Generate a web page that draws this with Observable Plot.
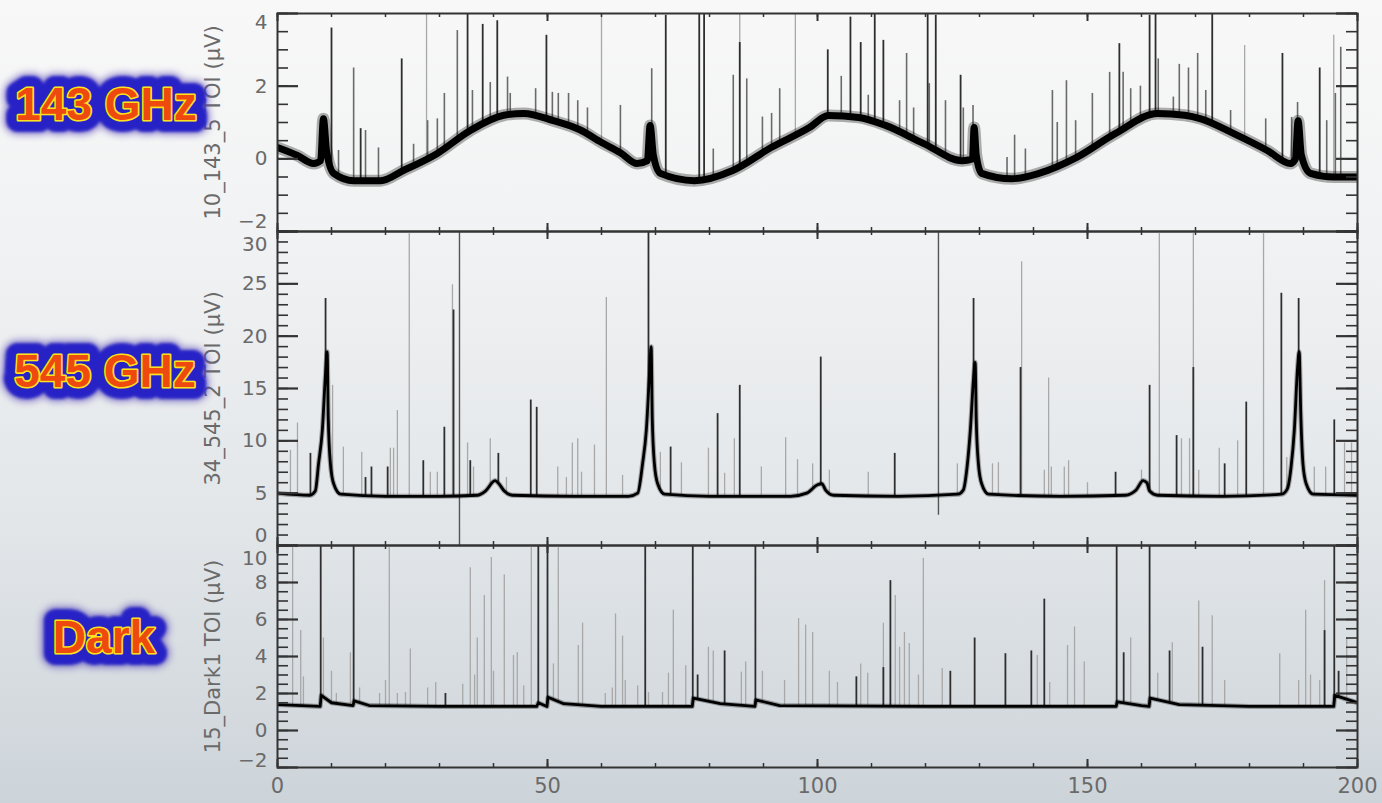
<!DOCTYPE html>
<html>
<head>
<meta charset="utf-8">
<script src="https://cdn.jsdelivr.net/npm/d3@7"></script>
<script src="https://cdn.jsdelivr.net/npm/@observablehq/plot@0.6"></script>
<style>
  html, body { margin: 0; padding: 0; }
  body { width: 1382px; height: 803px; overflow: hidden; }
  #wrap { position: relative; width: 1382px; height: 803px;
    background: linear-gradient(to bottom, #f8f8f8 0%, #f1f2f3 30%, #e2e6e9 65%, #cdd4d9 100%); }
  #wrap svg.plot { position: absolute; left: 0; }
  #badges { position: absolute; left: 0; top: 0; }
</style>
</head>
<body>
<div id="wrap"></div>
<script>
// ---------- data ----------
const xTickLabels = [0, 50, 100, 150, 200];

// Panel 1 : 143 GHz
const p1Label = "10_143_5 TOI (\u03bcV)";
const p1YTicks = [-2, 0, 2, 4];
const p1Base = [[0,0.31],[3.7,0.09],[6.7,-0.13],[8.0,-0.05],[8.5,1.1],[9.1,0.2],[10.4,-0.4],[14.1,-0.6],[19.1,-0.6],[23.3,-0.32],[29.6,0.15],[35.7,0.78],[41.9,1.2],[45.6,1.25],[51.1,1.05],[56,0.8],[60,0.45],[63.5,0.17],[66.6,-0.13],[68.5,-0.05],[69.0,0.92],[69.6,0.1],[70.9,-0.4],[77.2,-0.6],[84.3,-0.32],[91.4,0.31],[98.5,0.86],[102,1.19],[107.6,1.14],[112.6,0.92],[119.7,0.42],[126.8,-0.05],[128.7,0.0],[129,0.86],[129.4,0.1],[130.4,-0.4],[136,-0.55],[141,-0.4],[148,0.04],[155.2,0.7],[163,1.25],[168,1.2],[171,1.1],[177,0.7],[183.3,0.23],[187.6,-0.13],[188.5,0.0],[189,1.05],[189.6,0.1],[191.3,-0.4],[195.6,-0.5],[200,-0.5]];
const p1Dark = [[10.0,3.6],[15.4,0.83],[23.0,2.75],[35.2,4.0],[38.0,3.7],[40.7,3.8],[49.8,3.4],[71.9,3.95],[78.1,4],[79.0,4],[85.6,3.2],[101.9,3.0],[106.1,3.9],[108.0,3.2],[110.6,4],[112.2,3.26],[120.4,4],[121.9,3.95],[126.5,2.3],[155.9,3.17],[161.5,3.95],[162.6,4],[173.1,4],[186.1,2.9],[193.0,2.5]];
const p1Mid = [[11.3,0.23],[14.1,2.5],[16.3,0.78],[18.7,0.3],[25.2,0.4],[27.8,1.05],[29.6,1.1],[30.9,1.8],[33.3,3.53],[36.1,1.88],[39.4,2.1],[42.6,2.25],[43.1,1.8],[47.8,1.93],[50.9,1.83],[52.0,1.8],[53.9,1.8],[55.6,1.6],[57.4,1.4],[63.5,1.47],[69.3,2.48],[80.7,0.27],[84.4,2.3],[86.9,2.2],[89.8,1.15],[91.5,1.25],[93.0,1.93],[104.4,2.27],[109.4,1.75],[115.2,1.6],[116.5,2.9],[117.8,1.4],[120.7,2.07],[123.7,1.6],[127.0,1.4],[128.8,1.47],[135.1,0.04],[136.5,0.65],[138.5,0.27],[143.5,1.88],[144.4,1.0],[146.1,2.15],[147.8,1.05],[150.9,1.8],[154.1,2.38],[156.6,2.38],[158.0,1.93],[159.8,2.0],[163.1,2.75],[165.9,1.7],[167.0,2.6],[168.7,2.5],[170.4,2.9],[171.9,1.88],[176.5,1.33],[183.0,1.1],[187.8,1.14],[188.9,1.55],[194.3,1.05],[195.9,1.8],[196.9,3.07]];
const p1Light = [[27.6,4.0],[60.0,4.0],[85.6,4.0],[95.9,4.0],[179.1,3.12],[195.6,3.4]];

// Panel 2 : 545 GHz
const p2Label = "34_545_2 TOI (\u03bcV)";
const p2YTicks = [0, 5, 10, 15, 20, 25, 30];
const p2Base = [[0,5.0],[6,4.8],[7,5.2],[7.6,7.8],[8.3,11],[8.9,16.5],[9.2,18.5],[9.4,12.2],[9.8,7.8],[10.4,5.9],[11.7,4.9],[20,4.7],[30,4.7],[37,4.8],[38.5,5.2],[40.3,6.2],[41,5.9],[42,5.2],[43.5,4.8],[55,4.7],[65,4.7],[66.7,5.0],[67.6,7.8],[68.3,11],[68.9,16.5],[69.2,19],[69.4,12.2],[69.8,7.8],[70.4,5.9],[71.7,4.9],[80,4.7],[95,4.7],[98,5.0],[100,5.8],[100.8,5.9],[101.5,5.3],[103,4.8],[115,4.7],[126,4.9],[127,5.3],[127.7,7.5],[128.3,11],[128.9,16],[129.2,17.5],[129.4,12],[129.8,7.8],[130.4,5.9],[131.7,4.9],[145,4.7],[157,4.8],[159,5.3],[160.3,6.2],[161,6.0],[161.5,5.2],[163,4.8],[175,4.7],[186,4.9],[187,5.4],[187.7,7.5],[188.3,11],[188.9,17],[189.2,18.5],[189.5,12.5],[189.9,7.8],[190.5,5.9],[191.8,4.9],[200,4.8]];
const p2Dark = [[6.1,8.8],[8.9,23.6],[16.3,6.5],[17.4,7.5],[20.4,7.5],[27.0,8.1],[30.9,11.3],[32.6,22.5],[35.7,8.1],[40.9,8.8],[46.9,13.9],[48.0,13.2],[68.7,30],[72.8,9.4],[81.5,12.6],[85.6,15.3],[100.6,18.0],[114.3,8.8],[128.9,23.6],[137.6,17.0],[155.2,7.0],[161.5,15.3],[166.5,10.5],[169.6,17],[175.4,7.8],[179.4,13.7],[185.9,24.1],[189.1,23.6],[195.7,12.0]];
const p2Light = [[2.4,9.1],[3.7,11.7],[10.2,15.3],[12.2,9.4],[15.6,8.9],[20.9,9.3],[21.5,9.3],[22.2,12.9],[24.4,30],[28.3,7.0],[29.6,7.0],[32.4,24.9],[35.2,9.8],[36.3,7.5],[39.4,10.2],[42.4,6.5],[51.9,7.5],[53.5,6.5],[54.6,9.8],[55.6,10.2],[56.3,7.0],[58.7,9.6],[60.9,23.7],[63.9,6.7],[70.9,8.9],[74.8,7.9],[79.8,9.3],[82.8,6.9],[84.6,10.2],[89.6,7.5],[94.1,10.3],[96.3,8.2],[99.1,7.8],[102.2,7.2],[109.4,7.0],[125.9,7.8],[132.4,7.8],[133.5,7.9],[137.8,27.1],[142.0,7.2],[142.8,16.0],[143.3,7.5],[145.7,7.5],[146.5,8.1],[150.0,6.0],[160.0,7.2],[163.3,30],[167.4,10.2],[168.9,10.2],[169.6,30],[170.6,7.2],[174.4,9.3],[177.8,10.0],[182.6,30],[186.9,8.4],[192.0,7.5],[194.1,7.5],[197.6,9.8],[198.9,9.8]];
const p2Glitch = [[33.7,0,30],[122.4,2.9,30]];

// Panel 3 : Dark
const p3Label = "15_Dark1 TOI (\u03bcV)";
const p3YTicks = [-2, 0, 2, 4, 6, 8, 10];
const p3Base = [[0,1.4],[7.9,1.3],[8.1,1.9],[10,1.5],[14,1.35],[14.2,1.6],[17,1.35],[30,1.3],[48,1.3],[48.3,1.5],[49.9,1.3],[50.1,1.8],[53,1.45],[60,1.3],[76.8,1.3],[77.0,1.75],[82,1.45],[88.4,1.3],[88.6,1.65],[93,1.35],[120,1.3],[155.3,1.3],[155.5,1.55],[160,1.35],[161.4,1.3],[161.6,1.75],[167,1.4],[180,1.3],[195.6,1.3],[195.8,1.9],[200,1.5]];
const p3Dark = [[8.0,10],[14.1,10],[31.1,2.0],[48.3,10],[50.0,10],[68.1,10],[76.9,10],[77.8,3.0],[82.8,4.3],[88.5,10],[107.2,2.9],[112.2,3.4],[113.5,8.1],[124.6,3.2],[129.1,5.0],[134.8,4.15],[139.6,4.3],[142.0,7.1],[155.4,10],[156.7,4.2],[161.5,10],[165.2,4.3],[171.3,4.5],[193.9,5.4],[195.7,10],[196.5,3.2]];
const p3Light = [[2.8,10],[4.3,5.4],[4.8,2.9],[8.5,5.0],[10.0,3.2],[10.9,2.0],[13.5,4.2],[15.2,2.3],[18.9,2.0],[20.0,2.7],[20.7,10],[22.2,2.0],[23.7,2.05],[24.6,4.4],[27.8,2.3],[29.3,2.6],[34.3,2.5],[35.7,8.8],[36.5,3.0],[37.0,5.0],[38.3,7.3],[39.6,9.35],[40.0,3.2],[42.0,8.4],[43.7,4.05],[44.4,4.2],[45.6,2.4],[47.0,10],[51.1,3.6],[52.0,10],[55.7,4.6],[56.5,5.8],[60.7,2.0],[62.0,2.3],[62.6,6.3],[63.9,5.1],[64.4,2.7],[66.7,2.4],[68.7,2.05],[71.3,2.05],[72.4,3.1],[73.3,6.5],[75.6,3.5],[79.8,4.5],[80.7,4.3],[85.9,3.15],[86.7,3.7],[89.8,3.2],[93.9,2.7],[96.5,6.05],[97.8,5.7],[99.1,5.3],[102.2,3.2],[103.7,2.6],[108.0,3.6],[109.3,3.1],[112.2,5.8],[114.4,7.3],[115.2,4.5],[116.1,5.3],[117.0,4.7],[118.7,3.0],[119.6,9.3],[123.1,3.35],[140.7,4.05],[143.0,2.6],[146.3,4.6],[147.6,5.6],[149.4,3.7],[158.0,5.0],[163.0,3.1],[165.7,4.75],[170.6,7.0],[173.1,6.2],[175.4,2.7],[185.6,4.15],[189.1,2.7],[190.4,6.5],[191.3,3.0],[193.0,2.7],[193.9,8.1],[198.0,5.0]];

// Badges
const badgeNames = ["143 GHz", "545 GHz", "Dark"];

// ---------- helpers ----------
const FONT = "'DejaVu Sans', Verdana, sans-serif";
const fmt = d => String(d).replace("-", "\u2212");
const ML = 277, MR = 25, W = 1382, FW = W - ML - MR;
function baseAt(base, x) {
  const i = d3.bisector(d => d[0]).right(base, x);
  if (i <= 0) return base[0][1];
  if (i >= base.length) return base[base.length - 1][1];
  const a = base[i - 1], b = base[i];
  return a[1] + (b[1] - a[1]) * (x - a[0]) / (b[0] - a[0]);
}

function panel({domain, yTicks, yMinorStep, label, base, dark, mid, light, glitch, baseWidth, halo, curve, top, height, mt, mb, topDy, botDy, xLabels}) {
  const [lo, hi] = domain;
  const FH = height - mt - mb;
  const minor = d3.range(lo, hi + 1e-9, yMinorStep);
  const inner = yTicks.filter(t => t !== lo && t !== hi);
  const marks = [];
  const spike = (data, stroke, w) => Plot.ruleX(data, {
    x: d => d[0], y1: d => baseAt(base, d[0]), y2: d => d[1], stroke, strokeWidth: w, clip: true
  });
  if (light) marks.push(spike(light, "#a8a8a8", 1.3));
  if (mid) marks.push(spike(mid, "#6a6a6a", 1.6));
  if (dark) marks.push(spike(dark, "#2e2e2e", 1.8));
  if (glitch) marks.push(Plot.ruleX(glitch, {x: d => d[0], y1: d => d[1], y2: d => d[2], stroke: "#555", strokeWidth: 1.4, clip: true}));
  if (halo) marks.push(Plot.line(base, {x: d => d[0], y: d => d[1], curve, stroke: "#000", strokeOpacity: 0.3, strokeWidth: halo, strokeLinejoin: "round", clip: true}));
  marks.push(Plot.line(base, {x: d => d[0], y: d => d[1], curve, stroke: "#000", strokeWidth: baseWidth, strokeLinejoin: "round", clip: true}));
  // inward ticks (IDL style) drawn as short rules inset from the frame edges
  const tky = (t, len, w) => [
    Plot.ruleY(t, {y: d => d, insetRight: FW - len, stroke: "#333", strokeWidth: w}),
    Plot.ruleY(t, {y: d => d, insetLeft: FW - len, stroke: "#333", strokeWidth: w})
  ];
  const tkx = (t, len, w) => [
    Plot.ruleX(t, {x: d => d, insetTop: FH - len, stroke: "#333", strokeWidth: w}),
    Plot.ruleX(t, {x: d => d, insetBottom: FH - len, stroke: "#333", strokeWidth: w})
  ];
  marks.push(...tky(minor, 11, 1.6), ...tky(yTicks, 21, 2.2));
  marks.push(...tkx(d3.range(0, 201, 10), 4, 1.5), ...tkx(xTickLabels, 8, 2));
  // tick labels
  const lab = {anchor: "left", tickSize: 0, tickPadding: 10, fontSize: 20, color: "#6a6a6a", tickFormat: fmt};
  marks.push(Plot.axisY({...lab, ticks: inner}));
  marks.push(Plot.axisY({...lab, ticks: [hi], dy: topDy}));
  marks.push(Plot.axisY({...lab, ticks: [lo], dy: botDy}));
  if (xLabels) marks.push(Plot.axisX({anchor: "bottom", ticks: xTickLabels, tickSize: 0, tickPadding: 11, fontSize: 21, color: "#6a6a6a", tickFormat: fmt}));
  marks.push(Plot.text([label], {frameAnchor: "left", text: d => d, rotate: -90, dx: -64, textAnchor: "middle", fontSize: 21, fill: "#6a6a6a"}));
  marks.push(Plot.frame({stroke: "#333", strokeWidth: 2}));
  const svg = Plot.plot({
    width: W, height, marginLeft: ML, marginRight: MR, marginTop: mt, marginBottom: mb,
    x: xLabels ? {domain: [0, 200]} : {domain: [0, 200], axis: null},
    y: {domain, axis: null},
    style: {background: "transparent", fontFamily: FONT, overflow: "visible"},
    marks
  });
  svg.classList.add("plot");
  svg.style.top = top + "px";
  return svg;
}

const wrap = document.getElementById("wrap");
wrap.appendChild(panel({domain: [-2, 4], yTicks: p1YTicks, yMinorStep: 0.5, label: p1Label, base: p1Base,
  dark: p1Dark, mid: p1Mid, light: p1Light, baseWidth: 7, halo: 12, curve: "monotone-x",
  top: 0, height: 241, mt: 13, mb: 10, topDy: 9, botDy: -10}));
wrap.appendChild(panel({domain: [0, 30], yTicks: p2YTicks, yMinorStep: 1, label: p2Label, base: p2Base,
  dark: p2Dark, mid: null, light: p2Light, glitch: p2Glitch, baseWidth: 2.8, halo: 5, curve: "monotone-x",
  top: 221, height: 334, mt: 10, mb: 10, topDy: 13, botDy: -10}));
wrap.appendChild(panel({domain: [-2, 10], yTicks: p3YTicks, yMinorStep: 0.5, label: p3Label, base: p3Base,
  dark: p3Dark, mid: null, light: p3Light, baseWidth: 2.8, halo: 5, curve: "linear",
  top: 535, height: 268, mt: 10, mb: 36, topDy: 13, botDy: -7, xLabels: true}));

// ---------- badges ----------
const badgePos = [[106, 120], [105, 387], [104, 653]];
const bsvg = d3.create("svg").attr("id", "badges").attr("width", 1382).attr("height", 803);
const defs = bsvg.append("defs");
defs.append("filter").attr("id", "soft").attr("x", "-20%").attr("y", "-50%").attr("width", "140%").attr("height", "200%")
  .append("feGaussianBlur").attr("stdDeviation", 1.6);
defs.append("filter").attr("id", "softer").attr("x", "-20%").attr("y", "-50%").attr("width", "140%").attr("height", "200%")
  .append("feGaussianBlur").attr("stdDeviation", 3.5);
badgeNames.forEach((name, i) => {
  const [cx, by] = badgePos[i];
  const g = bsvg.append("g").attr("font-family", "'Liberation Sans', Arial, sans-serif").attr("font-weight", "bold")
    .attr("font-size", 46).attr("text-anchor", "middle");
  g.append("text").attr("x", cx).attr("y", by).text(name)
    .attr("fill", "#5a48b8").attr("stroke", "#5a48b8").attr("stroke-width", 30).attr("stroke-linejoin", "round")
    .attr("opacity", 0.6).attr("filter", "url(#softer)");
  g.append("text").attr("x", cx).attr("y", by).text(name)
    .attr("fill", "#2620c6").attr("stroke", "#2620c6").attr("stroke-width", 24).attr("stroke-linejoin", "round")
    .attr("filter", "url(#soft)");
  g.append("text").attr("x", cx).attr("y", by).text(name)
    .attr("fill", "#f0520e").attr("stroke", "#ffe21a").attr("stroke-width", 3.2).attr("stroke-linejoin", "round");
  g.append("text").attr("x", cx).attr("y", by).text(name)
    .attr("fill", "#ee4a10");
});
wrap.appendChild(bsvg.node());
</script>
</body>
</html>
